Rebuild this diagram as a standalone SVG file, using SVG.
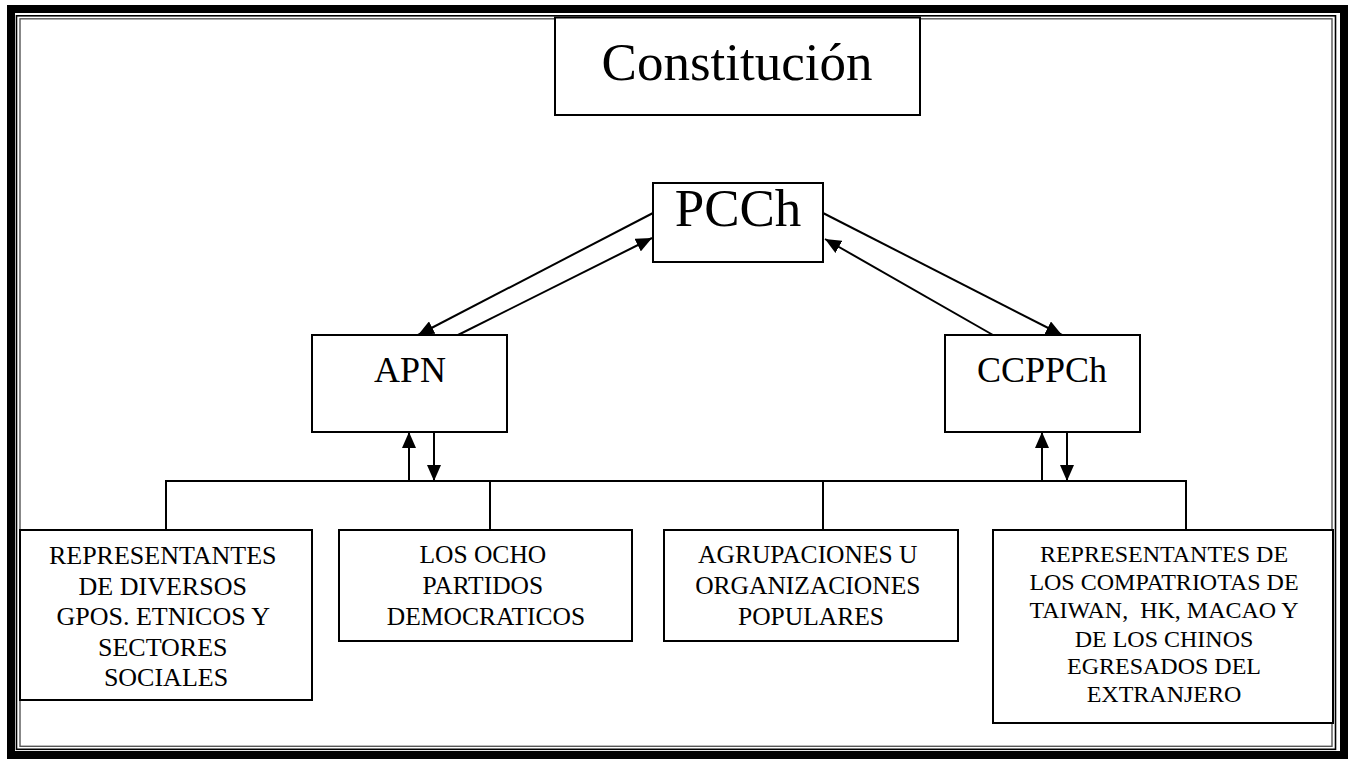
<svg xmlns="http://www.w3.org/2000/svg" width="1351" height="759" viewBox="0 0 1351 759">
<style>
.box{fill:#fff;stroke:#000;stroke-width:2}
.t{font-family:"Liberation Serif","Times New Roman",serif;fill:#000;text-anchor:middle}
.ln{fill:none;stroke:#000;stroke-width:2}
.ar{fill:none;stroke:#000;stroke-width:2;marker-end:url(#ah)}
</style>
<defs>
<marker id="ah" markerUnits="userSpaceOnUse" markerWidth="16" markerHeight="14" viewBox="0 0 16 14" refX="16" refY="7" orient="auto">
<path d="M0,0 L16,7 L0,14 z" fill="#000"/>
</marker>
</defs>
<rect width="1351" height="759" fill="#fff"/>
<g id="frame">
<rect x="11" y="9" width="1333" height="746" fill="none" stroke="#000" stroke-width="8"/>
<rect x="16.5" y="15.8" width="1319" height="733.5" fill="none" stroke="#000" stroke-width="1.6"/>
<rect x="20" y="18.8" width="1312" height="727.5" fill="none" stroke="#555" stroke-width="1.4"/>
</g>
<g id="connectors">
<line class="ar" x1="653" y1="213" x2="418" y2="335"/>
<line class="ar" x1="458" y1="335" x2="652" y2="238"/>
<line class="ar" x1="823" y1="213" x2="1062" y2="335"/>
<line class="ar" x1="993" y1="335" x2="825" y2="239"/>
<line class="ar" x1="409" y1="481" x2="409" y2="432"/>
<line class="ar" x1="434" y1="432" x2="434" y2="481"/>
<line class="ar" x1="1042" y1="481" x2="1042" y2="432"/>
<line class="ar" x1="1067" y1="432" x2="1067" y2="481"/>
<path class="ln" d="M166,530 V481 H1186 V530 M490,481 V530 M823,481 V530"/>
</g>
<g id="constitucion">
<rect class="box" x="555" y="17.5" width="365" height="97.5"/>
<text class="t" x="737" y="80" font-size="53">Constitución</text>
</g>
<g id="pcch">
<rect class="box" x="653" y="183" width="170" height="79"/>
<text class="t" x="738" y="226" font-size="53">PCCh</text>
</g>
<g id="apn">
<rect class="box" x="312" y="335" width="195" height="97"/>
<text class="t" x="410" y="382" font-size="36">APN</text>
</g>
<g id="ccppch">
<rect class="box" x="945" y="335" width="195" height="97"/>
<text class="t" x="1042" y="382" font-size="36">CCPPCh</text>
</g>
<g id="box1">
<rect class="box" x="20" y="530" width="292" height="170"/>
<text class="t" font-size="26">
<tspan x="166" y="564">REPRESENTANTES</tspan>
<tspan x="166" y="594.5">DE DIVERSOS</tspan>
<tspan x="166" y="625">GPOS. ETNICOS Y</tspan>
<tspan x="166" y="655.5">SECTORES</tspan>
<tspan x="166" y="686">SOCIALES</tspan>
</text>
</g>
<g id="box2">
<rect class="box" x="339" y="530" width="293" height="111"/>
<text class="t" font-size="25.5">
<tspan x="486" y="563">LOS OCHO</tspan>
<tspan x="486" y="594">PARTIDOS</tspan>
<tspan x="486" y="625">DEMOCRATICOS</tspan>
</text>
</g>
<g id="box3">
<rect class="box" x="664" y="530" width="294" height="111"/>
<text class="t" font-size="25.5">
<tspan x="811" y="563">AGRUPACIONES U</tspan>
<tspan x="811" y="594">ORGANIZACIONES</tspan>
<tspan x="811" y="625">POPULARES</tspan>
</text>
</g>
<g id="box4">
<rect class="box" x="993" y="530" width="340" height="193"/>
<text class="t" font-size="24" xml:space="preserve"><tspan x="1164" y="562">REPRESENTANTES DE</tspan><tspan x="1164" y="590">LOS COMPATRIOTAS DE</tspan><tspan x="1164" y="618">TAIWAN,  HK, MACAO Y</tspan><tspan x="1164" y="647">DE LOS CHINOS</tspan><tspan x="1164" y="674">EGRESADOS DEL</tspan><tspan x="1164" y="702">EXTRANJERO</tspan></text>
</g>
</svg>
